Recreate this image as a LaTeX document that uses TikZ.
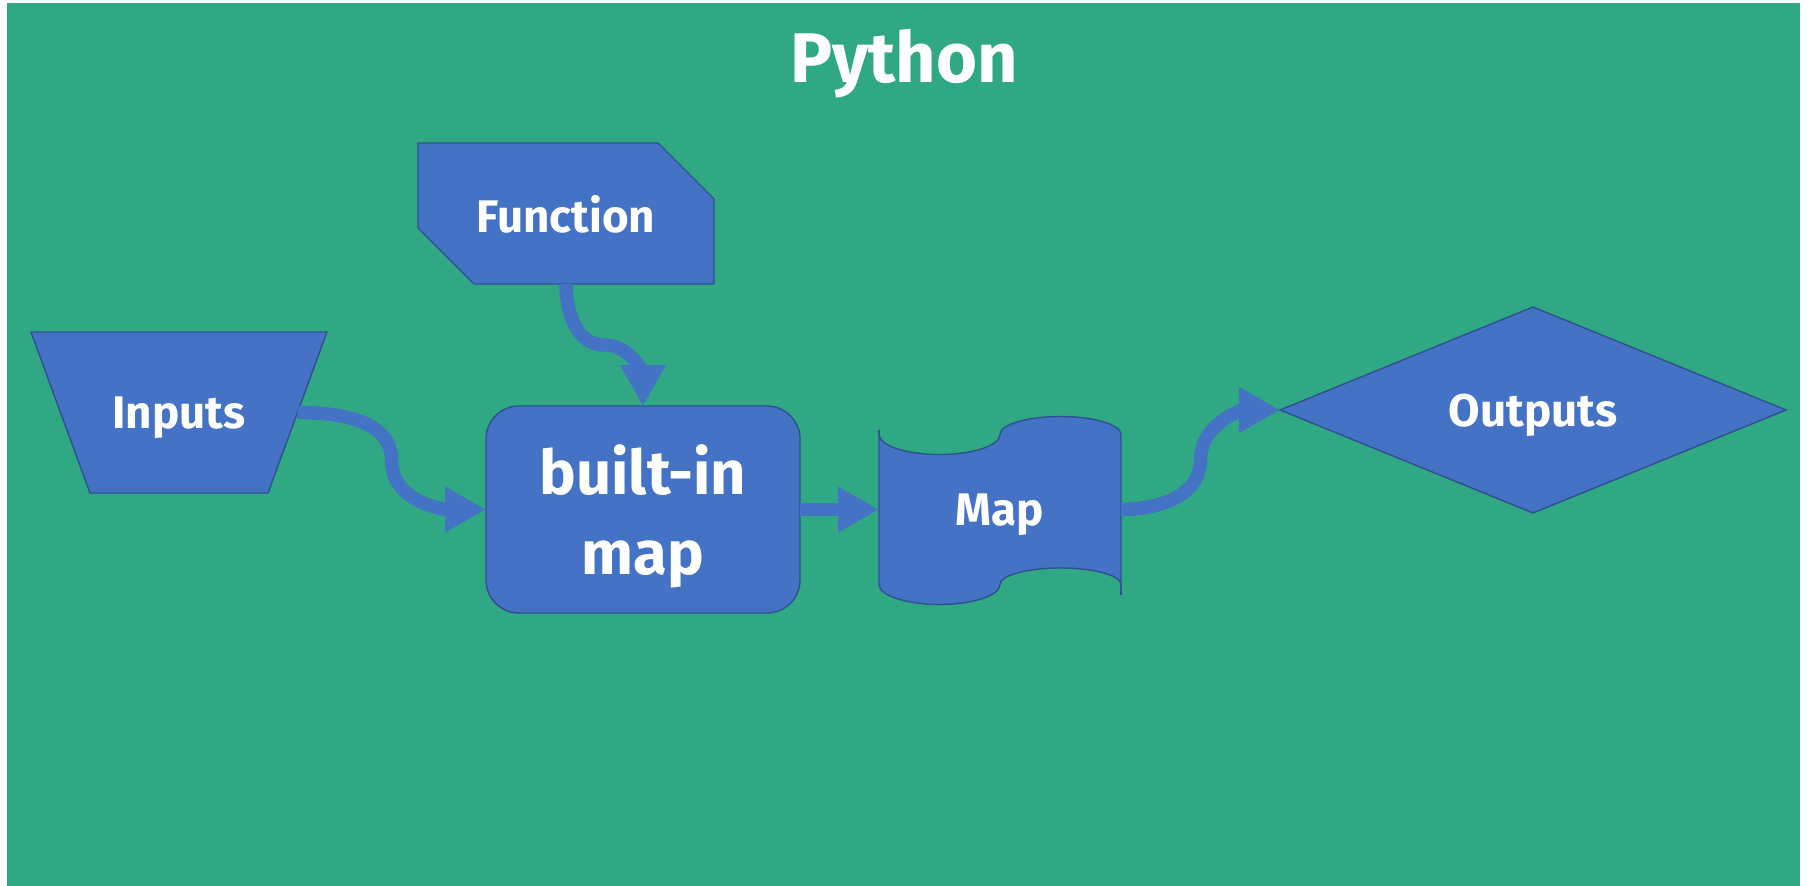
\documentclass[tikz,border=0pt]{standalone}
\usepackage{fontspec}
\setmainfont{Fira Sans}
\usetikzlibrary{shapes.geometric,arrows.meta,positioning,calc}
\definecolor{bggreen}{HTML}{31A884}
\definecolor{shapeblue}{HTML}{4472C4}
\definecolor{edgeblue}{HTML}{2F528F}
\pgfdeclarelayer{background}
\pgfsetlayers{background,main}
\tikzset{
  shape style/.style={draw=edgeblue, fill=shapeblue, line width=0.8pt, text=white,
    font=\bfseries\fontsize{26}{30}\selectfont, text depth=0pt,
    inner sep=0pt, outer sep=0pt, align=center},
  outline style/.style={draw=edgeblue, fill=shapeblue, line width=0.8pt},
  flow style/.style={draw=shapeblue, line width=7.6pt, -{Triangle[length=0.82cm, width=0.86cm]}},
  title style/.style={text=white, font=\bfseries\fontsize{40}{48}\selectfont, anchor=base}
}
\begin{document}
\begin{tikzpicture}
\useasboundingbox (0,0) rectangle (36.16,-17.72);
\node[title style] (title) at (18.08,-1.64) {Python};
\node[shape style, rounded corners=0.66cm, minimum width=6.28cm, minimum height=4.14cm,
  font=\bfseries\fontsize{35}{46}\selectfont] (bim) at (12.86,-10.19) {built-in\\map};
\node[shape style, draw=none, fill=none, minimum width=5.92cm, minimum height=2.82cm,
  above=2.44cm of bim, xshift=-1.54cm] (fn) {Function};
\node[shape style, draw=none, fill=none, minimum width=5.92cm, minimum height=3.22cm]
  (in) at (3.58,-8.25) {Inputs};
\node[shape style, draw=none, fill=none, minimum width=4.84cm, minimum height=3cm,
  right=1.58cm of bim] (mp) {Map};
\node[shape style, diamond, aspect=2.4, minimum width=10.12cm, minimum height=4.12cm]
  (out) at (30.66,-8.2) {Outputs};
% shapes drawn behind the text
\begin{pgfonlayer}{background}
\fill[bggreen] (0.14,-0.05) rectangle (36.0,-17.72);
\filldraw[outline style] (fn.north west) -- ([xshift=-1.12cm]fn.north east)
  -- ([yshift=-1.12cm]fn.north east) -- (fn.south east)
  -- ([xshift=1.12cm]fn.south west) -- ([yshift=1.12cm]fn.south west) -- cycle;
\filldraw[outline style] (in.north west) -- (in.north east)
  -- ([xshift=-1.18cm]in.south east) -- ([xshift=1.18cm]in.south west) -- cycle;
\filldraw[outline style] (mp.north west)
  arc[start angle=180, end angle=360, x radius=1.21cm, y radius=0.4cm]
  arc[start angle=180, end angle=0, x radius=1.21cm, y radius=0.36cm]
  -- (mp.south east)
  arc[start angle=0, end angle=180, x radius=1.21cm, y radius=0.33cm]
  arc[start angle=0, end angle=-180, x radius=1.21cm, y radius=0.4cm] -- cycle;
\draw[edgeblue, line width=0.8pt] (mp.north west) -- ++(0,0.1);
\draw[edgeblue, line width=0.8pt] (mp.south east) -- ++(0,-0.2);
\end{pgfonlayer}
% connectors
\draw[flow style] ([xshift=-0.59cm]in.east) to[out=0, in=90]
  ($([xshift=-0.59cm]in.east)!0.5!(bim.west)$) to[out=-90, in=180] (bim.west);
\draw[flow style] (fn.south) to[out=-90, in=180] ($(fn.south)!0.5!(bim.north)$)
  to[out=0, in=90] (bim.north);
\draw[flow style] (bim.east) -- (mp.west);
\draw[flow style] (mp.east) to[out=0, in=-90] ($(mp.east)!0.5!(out.west)$)
  to[out=90, in=180] (out.west);
\end{tikzpicture}
\end{document}
